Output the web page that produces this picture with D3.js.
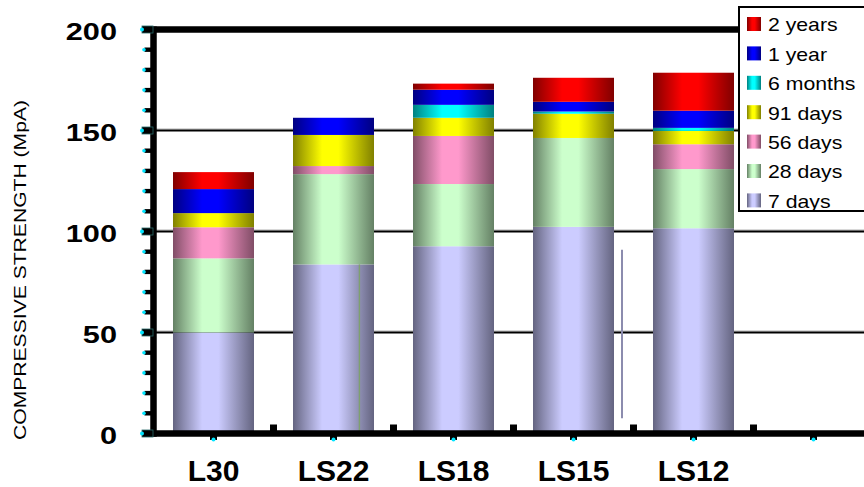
<!DOCTYPE html>
<html>
<head>
<meta charset="utf-8">
<script src="https://cdn.jsdelivr.net/npm/d3@7/dist/d3.min.js"></script>
<style>
  html, body { margin: 0; padding: 0; background: #fff; }
  svg { display: block; }
  text { font-family: "Liberation Sans", Arial, sans-serif; }
</style>
</head>
<body>
<svg id="chart" width="864" height="487"></svg>
<script>
// Mix designations along the x axis (the sixth slot is left empty)
const categories = ["L30", "LS22", "LS18", "LS15", "LS12"];
const slots = [...categories, ""];

// Curing ages, bottom of the stack first
const seriesNames = ["7 days", "28 days", "56 days", "91 days", "6 months", "1 year", "2 years"];

// Strength gained in each age band (MPa), per mix
const days7   = [50.0, 83.7, 92.7, 102.3, 101.6];
const days28  = [36.7, 44.7, 30.8, 44.0, 29.3];
const days56  = [15.4, 4.0, 23.8, 0.0, 12.3];
const days91  = [7.0, 15.4, 9.0, 12.0, 6.6];
const months6 = [0.0, 0.0, 6.4, 1.1, 1.5];
const year1   = [11.9, 8.5, 7.5, 4.8, 8.5];
const years2  = [8.4, 0.0, 3.0, 11.9, 18.8];

const yTicks = [0, 50, 100, 150, 200];

const seriesValues = [days7, days28, days56, days91, months6, year1, years2];
const lightColors = ["#CCCCFF", "#CCFFCC", "#FF99CC", "#FFFF00", "#00FFFF", "#0000FF", "#FF0000"];
const darkColors  = ["#646480", "#648064", "#804D66", "#808000", "#008080", "#000080", "#800000"];

const svg = d3.select("#chart");
const W = 864, H = 487;
svg.append("rect").attr("width", W).attr("height", H).attr("fill", "#fff");

const plotLeft = 153.5, step = 120;
const x = d3.scaleBand()
  .domain(slots)
  .range([plotLeft, plotLeft + step * slots.length])
  .paddingInner(0.325)
  .paddingOuter(0.1625);
const y = d3.scaleLinear().domain([0, 200]).range([433.5, 29.5]);

// Cylinder-style shading for every series
const defs = svg.append("defs");
seriesNames.forEach((name, i) => {
  const g = defs.append("linearGradient")
    .attr("id", "grad" + i)
    .attr("x1", "0%").attr("x2", "100%").attr("y1", "0%").attr("y2", "0%");
  const mid = d3.interpolateRgb(darkColors[i], lightColors[i]);
  [[0, 0], [0.12, 0.35], [0.36, 1], [0.56, 1], [0.8, 0.45], [1, 0]].forEach(([o, t]) => {
    g.append("stop").attr("offset", o).attr("stop-color", mid(t));
  });
});

// Horizontal grid lines
const gridVals = yTicks.filter(v => v > 0 && v < 200);
svg.append("g").selectAll("line.shadow").data(gridVals).join("line")
  .attr("x1", plotLeft).attr("x2", W)
  .attr("y1", d => y(d) - 1.5).attr("y2", d => y(d) - 1.5)
  .attr("stroke", "#b0b0b0").attr("stroke-width", 1);
svg.append("g").selectAll("line.grid").data(gridVals).join("line")
  .attr("x1", plotLeft).attr("x2", W)
  .attr("y1", d => y(d)).attr("y2", d => y(d))
  .attr("stroke", "#000").attr("stroke-width", 2.2);

// Stacked bars
const table = categories.map((c, j) => {
  const row = { cat: c };
  seriesNames.forEach((s, i) => { row[s] = seriesValues[i][j]; });
  return row;
});
const stacked = d3.stack().keys(seriesNames)(table);

const bars = svg.append("g");
stacked.forEach((layer, i) => {
  bars.append("g").attr("fill", `url(#grad${i})`)
    .selectAll("rect").data(layer.filter(d => d[1] - d[0] > 0)).join("rect")
    .attr("x", d => x(d.data.cat))
    .attr("width", x.bandwidth())
    .attr("y", d => y(d[1]))
    .attr("height", d => y(d[0]) - y(d[1]));
});

// Thin leader strokes inside the plot
svg.append("line")
  .attr("x1", x("LS22") + x.bandwidth() * 0.82).attr("x2", x("LS22") + x.bandwidth() * 0.82)
  .attr("y1", y(days7[1])).attr("y2", y(0))
  .attr("stroke", "#7fa070").attr("stroke-width", 1.4);
svg.append("line")
  .attr("x1", x("LS15") + x.bandwidth() + 8).attr("x2", x("LS15") + x.bandwidth() + 8)
  .attr("y1", y(91)).attr("y2", y(7.5))
  .attr("stroke", "#8c8cae").attr("stroke-width", 2);

// Frame: top border, left axis, bottom axis
svg.append("line").attr("x1", plotLeft - 3).attr("x2", W)
  .attr("y1", y(200)).attr("y2", y(200))
  .attr("stroke", "#000").attr("stroke-width", 6.5);
svg.append("line").attr("x1", plotLeft).attr("x2", plotLeft)
  .attr("y1", y(200) - 3).attr("y2", y(0) + 3.3)
  .attr("stroke", "#000").attr("stroke-width", 6.5);
svg.append("line").attr("x1", plotLeft - 3).attr("x2", W)
  .attr("y1", y(0)).attr("y2", y(0))
  .attr("stroke", "#000").attr("stroke-width", 6.7);

// Y-axis minor and major ticks
const minor = d3.range(10, 200, 10).filter(v => v % 50 !== 0);
const yt = svg.append("g");
yt.selectAll("rect.minor").data(minor).join("rect")
  .attr("x", plotLeft - 9).attr("width", 8)
  .attr("y", d => y(d) - 2.2).attr("height", 4.4)
  .attr("fill", "#000");
yt.selectAll("rect.major").data(yTicks).join("rect")
  .attr("x", plotLeft - 11.5).attr("width", 11)
  .attr("y", d => y(d) - 3.5).attr("height", 7)
  .attr("fill", "#000").attr("stroke", "#2a6a6a").attr("stroke-width", 0.8);
yt.selectAll("circle.minor").data(minor).join("circle")
  .attr("cx", plotLeft - 9.5).attr("cy", d => y(d)).attr("r", 1.8)
  .attr("fill", "#00E5FF");
yt.selectAll("circle.major").data(yTicks).join("circle")
  .attr("cx", plotLeft - 11.5).attr("cy", d => y(d)).attr("r", 2)
  .attr("fill", "#00E5FF");

// Y tick labels
yt.selectAll("text").data(yTicks).join("text")
  .attr("transform", d => `translate(117,${y(d) + 2.5}) scale(1.28,1)`)
  .attr("text-anchor", "end")
  .attr("dominant-baseline", "central")
  .attr("font-size", 24).attr("font-weight", "bold")
  .text(d => d);

// X-axis ticks: small marks below at slot centres, inner marks between slots
const xt = svg.append("g");
xt.selectAll("rect.below").data(slots).join("rect")
  .attr("x", d => x(d) + x.bandwidth() / 2 - 3.5).attr("width", 7)
  .attr("y", y(0) + 2).attr("height", 4.5).attr("fill", "#000");
xt.selectAll("circle").data(slots).join("circle")
  .attr("cx", d => x(d) + x.bandwidth() / 2).attr("cy", y(0) + 6).attr("r", 2)
  .attr("fill", "#00E5FF");
xt.selectAll("rect.inner").data(slots.slice(1)).join("rect")
  .attr("x", d => x(d) - (x.step() - x.bandwidth()) / 2 - 3.5).attr("width", 7)
  .attr("y", y(0) - 9).attr("height", 7).attr("fill", "#000");

// Category labels
xt.selectAll("text").data(categories).join("text")
  .attr("x", d => x(d) + x.bandwidth() / 2)
  .attr("y", 470)
  .attr("text-anchor", "middle")
  .attr("dominant-baseline", "central")
  .attr("font-size", 30).attr("font-weight", "bold")
  .text(d => d);

// Y-axis title
svg.append("text")
  .attr("transform", "translate(20,270) rotate(-90)")
  .attr("text-anchor", "middle")
  .attr("dominant-baseline", "central")
  .attr("font-size", 17)
  .attr("textLength", 340).attr("lengthAdjust", "spacingAndGlyphs")
  .text("COMPRESSIVE STRENGTH (MpA)");

// Legend
const legend = svg.append("g");
legend.append("rect")
  .attr("x", 739).attr("y", 7).attr("width", 140).attr("height", 204)
  .attr("fill", "#fff").attr("stroke", "#000").attr("stroke-width", 2);
const order = d3.range(seriesNames.length).reverse();
const item = legend.selectAll("g.item").data(order).join("g")
  .attr("transform", (d, k) => `translate(0,${24 + k * 29.4})`);
item.append("rect")
  .attr("x", 747).attr("y", -7).attr("width", 14).attr("height", 14)
  .attr("fill", d => `url(#grad${d})`);
item.append("text")
  .attr("transform", "translate(768,1) scale(1.18,1)")
  .attr("dominant-baseline", "central")
  .attr("font-size", 18)
  .text(d => seriesNames[d]);
</script>
</body>
</html>
